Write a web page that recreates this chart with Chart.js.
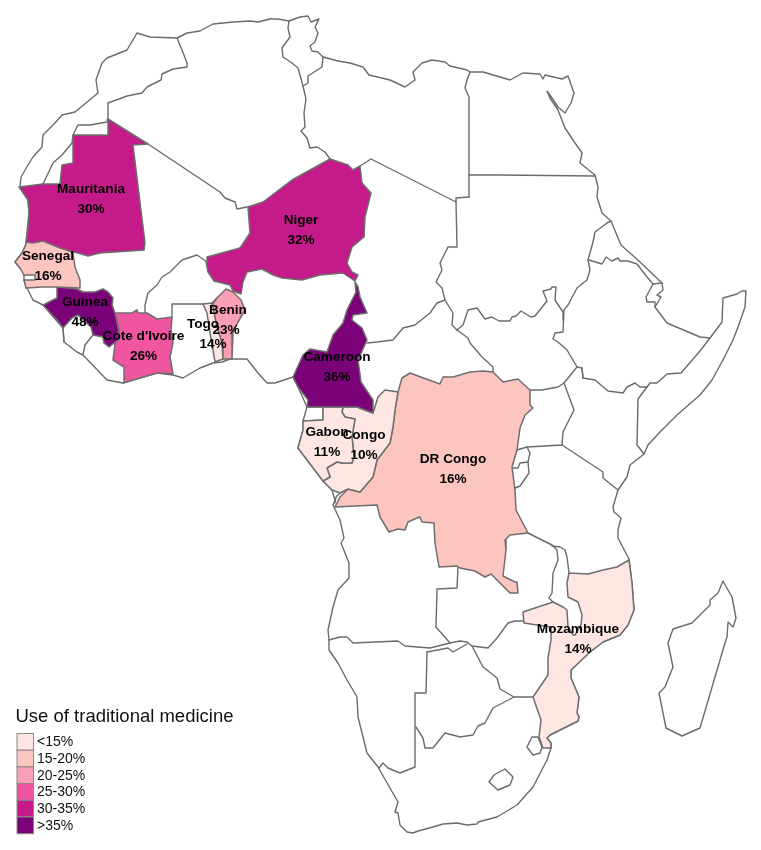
<!DOCTYPE html>
<html><head><meta charset="utf-8">
<style>html,body{margin:0;padding:0;background:#fff}canvas{display:block}</style>
<script src="https://cdn.jsdelivr.net/npm/chart.js@4"></script>
</head><body>
<canvas id="c" width="761" height="850"></canvas>
<script>
// Map geometry in map units (0-761 × 0-850)
const coast = [20,187,21,177,28,165,33,157,42,147,43,135,48,130,55,123,62,115,75,112,98,93,96,80,102,63,107,58,127,50,137,33,150,37,177,38,187,33,200,31,213,24,233,22,250,21,258,22,270,19,278,19,289,21,300,17,308,16,311,22,319,19,315,27,318,33,315,42,310,46,312,51,318,52,323,57,338,61,350,63,363,67,369,75,390,80,405,87,415,80,413,72,422,63,432,60,445,62,450,66,467,70,470,72,483,72,500,77,510,80,523,73,540,74,543,79,545,75,562,79,568,76,574,93,571,103,565,113,558,107,550,95,547,91,550,98,558,110,565,128,575,143,582,153,580,163,595,175,598,187,597,197,602,213,611,221,621,245,640,262,662,283,663,290,657,295,661,297,655,307,667,323,700,337,710,338,722,322,723,298,737,294,742,291,746,291,745,307,738,327,733,340,724,358,712,380,700,395,677,415,660,432,648,445,644,454,630,465,627,477,618,490,613,507,614,512,621,518,618,530,618,538,629,559,632,583,634,610,628,625,620,635,603,642,590,652,571,670,571,678,579,697,577,713,579,717,578,721,550,735,547,738,551,743,551,748,547,760,533,787,517,805,497,817,478,822,477,824,467,825,457,823,443,824,433,827,418,831,413,833,407,832,400,825,398,813,395,812,398,802,378,767,367,753,358,717,357,697,347,680,338,663,329,650,329,640,328,630,333,607,338,590,349,578,349,563,341,543,344,538,340,520,333,505,335,500,332,490,323,481,298,448,303,430,303,421,307,407,298,387,293,377,275,383,267,383,258,373,247,359,230,359,222,362,213,363,200,368,183,378,173,375,157,373,133,380,123,383,107,380,83,355,77,352,64,342,63,328,43,305,33,300,27,288,24,280,24,273,20,268,15,262,22,253,27,242,26,242,29,213,28,200,20,187];
const madagascar = [723,581,718,593,710,600,710,605,692,623,673,629,668,643,673,667,665,687,659,693,663,713,666,728,682,736,700,728,725,643,727,637,728,622,733,627,736,618,732,597,723,581];
const lesotho = [505,769,513,777,510,785,498,790,489,782,494,775,505,769];
const swaziland = [532,737,538,737,542,747,540,753,533,755,527,747,532,737];
const borders = [
 [43,184,53,163,62,155,72,143,73,135,78,125,90,125,107,122,108,117,108,103,127,96,142,93,147,87,161,80,162,74,173,69,187,67,187,63,182,50,177,38],
 [148,144,220,192,225,198,235,202,237,209,247,207],
 [289,21,288,28,290,37,282,48,283,57,292,63,298,68,303,86,306,99,304,113,305,127,301,131,307,138,310,148,317,147,325,152,330,159],
 [303,86,308,83,308,76,322,67,323,57],
 [360,166,371,159,456,202,456,198,469,197],
 [456,202,457,247,448,247,440,263,442,270,436,282,442,288,445,300,437,303,430,313,415,325,403,328,393,340,377,342,367,343],
 [470,72,467,80,465,88,469,97,469,197],
 [469,175,500,175,595,176],
 [445,300,453,313,452,325,457,330,468,338,470,343,482,357,493,367,493,372],
 [457,330,463,325,468,310,477,308,485,319,492,317,499,321,510,321,512,317,516,316,521,311,531,317,535,316,547,301,543,291,551,289,552,287,556,287,555,300,563,312,563,320],
 [611,221,607,223,595,232,593,242,588,260,590,270,587,280,577,288,568,305,564,310,563,332,555,333,553,339,558,342,567,350,577,367,582,368,583,378],
 [589,260,602,264,606,257,612,261,618,258,620,261,628,261,637,264,647,277,653,284,662,283],
 [653,284,646,297,647,302,655,302,655,307],
 [577,367,564,383,558,387,542,390,530,390],
 [564,383,574,410,563,432,562,445,527,447,517,450],
 [527,447,530,453,528,462,520,463,518,468,512,468],
 [528,462,529,473,520,486,515,488],
 [562,445,603,472,603,478,618,490],
 [582,368,583,378,595,380,608,391,623,393,627,387,635,383,640,387,647,387,638,399,637,445,644,454],
 [647,387,650,383,657,383,667,374,681,373,700,351,710,338],
 [528,533,552,545,557,550,558,560,553,573,552,593,549,598,553,602],
 [552,546,560,547,565,550,567,557,569,573],
 [458,567,457,588,437,589,436,627,450,643],
 [329,640,340,637,347,637,353,643,398,641,405,646,430,648,450,643,460,641,467,642,472,646,488,648,497,638,508,623,515,621,523,621],
 [427,652,448,648,453,652,467,644],
 [427,652,426,693,415,693,415,767,400,773,388,768,383,763,379,768],
 [416,727,423,738,425,748,433,748,445,733,460,737,473,735,478,726,485,723,493,708,514,697],
 [472,646,483,667,497,678,500,689,514,697,533,697],
 [145,313,145,305,148,293,157,285,162,277,170,272,182,260,197,255,207,262],
 [172,317,172,304,203,304],
 [212,303,217,298],
 [63,328,64,342],
 [83,355,85,345,93,335],
 [103,337,104,343],
 [340,493,340,488,332,490],
 [335,503,336,497,340,493],
 [307,407,323,407,323,420,303,421]
];
// Countries with a value
const mauritania = [19,187,43,184,60,184,62,165,73,163,73,135,108,135,108,119,148,144,133,145,145,243,144,250,100,253,88,256,78,253,73,252,60,248,43,241,33,243,26,242,28,227,29,213,28,200,19,187];
const niger = [248,207,263,202,292,180,330,159,348,165,353,170,360,166,362,183,371,193,365,217,364,237,352,247,347,263,352,272,358,275,355,281,343,273,320,275,302,280,282,278,273,275,262,269,247,272,243,282,241,294,233,291,230,285,214,281,208,272,206,262,207,257,240,248,250,233,248,207];
const senegal = [27,242,42,238,57,243,73,253,75,267,80,280,80,288,57,287,42,287,26,288,24,280,35,280,35,275,24,275,20,268,15,262,22,253,27,242];
const guinea = [57,287,77,289,83,292,95,292,103,289,108,292,113,298,112,305,115,313,119,332,118,340,109,347,104,343,103,337,93,335,91,327,78,315,72,318,63,328,57,320,43,305,57,298,57,287];
const coteDIvoire = [115,313,132,313,137,310,138,313,147,313,157,319,172,317,171,330,173,343,170,357,173,374,157,373,133,380,123,383,124,367,113,360,115,343,119,332,115,313];
const togo = [203,304,212,303,217,327,222,343,223,359,215,362,210,333,207,313,203,304];
const benin = [226,289,233,292,241,300,245,310,238,322,233,333,232,359,223,359,222,343,217,327,212,305,217,298,226,289];
const cameroon = [355,282,358,287,360,297,367,313,353,315,352,320,362,328,367,340,358,360,361,382,373,400,373,413,357,407,343,407,307,407,308,400,298,387,293,377,303,355,310,349,327,352,333,335,343,323,347,310,356,292,355,282];
const gabon = [323,407,343,407,342,412,345,417,355,419,352,437,354,457,352,463,342,463,337,462,327,468,330,477,323,481,298,448,303,430,303,421,323,420,323,407];
const congo = [343,407,357,407,373,413,378,397,385,390,398,392,395,410,393,427,390,443,377,460,373,477,360,492,348,489,340,493,332,490,323,481,330,477,327,468,337,462,342,463,352,463,354,457,352,437,355,419,345,417,342,412,343,407];
const drCongo = [335,507,340,497,348,489,360,492,373,477,377,460,390,443,393,427,395,410,398,392,402,378,410,373,440,384,443,377,453,377,470,372,483,371,493,372,503,382,518,379,530,390,530,405,533,408,525,415,520,428,517,450,512,467,515,490,516,510,528,533,510,535,505,540,506,550,503,576,515,582,517,582,518,593,510,593,500,583,491,574,485,577,475,571,460,568,457,566,439,567,435,543,434,523,422,522,420,517,417,518,408,522,405,530,398,529,389,532,380,517,377,505,335,507];
const mozambique = [569,573,588,574,603,570,617,567,629,560,632,583,634,610,628,625,620,635,603,642,590,652,571,670,571,678,579,697,577,713,579,717,578,721,550,735,547,738,551,743,551,748,543,748,539,737,541,720,533,697,548,675,548,658,551,640,551,627,537,625,524,623,523,612,553,602,563,607,567,610,568,627,573,635,575,635,581,625,582,615,578,602,568,597,567,583,569,573];

const fillValues = [
 {name:"Mauritania",value:30,path:mauritania,lx:91,ly:189},
 {name:"Niger",value:32,path:niger,lx:301,ly:220},
 {name:"Senegal",value:16,path:senegal,lx:48,ly:256},
 {name:"Guinea",value:48,path:guinea,lx:85,ly:302},
 {name:"Cote d'Ivoire",value:26,path:coteDIvoire,lx:143.5,ly:336},
 {name:"Togo",value:14,path:togo,lx:203,ly:324,vx:213},
 {name:"Benin",value:23,path:benin,lx:228,ly:310,vx:226},
 {name:"Cameroon",value:36,path:cameroon,lx:337,ly:357},
 {name:"Gabon",value:11,path:gabon,lx:327,ly:432},
 {name:"Congo",value:10,path:congo,lx:364,ly:435},
 {name:"DR Congo",value:16,path:drCongo,lx:453,ly:459},
 {name:"Mozambique",value:14,path:mozambique,lx:578,ly:629}
];
const legendTitle = "Use of traditional medicine";
const legendLabels = ["<15%","15-20%","20-25%","25-30%","30-35%",">35%"];
const legendColors = ["#FEE6E3","#FCC5C0","#FA9FB5","#F0559F","#C51B8A","#7A0177"];
const breaks = [15,20,25,30,35];
const colorOf = v => { let i=0; while(i<breaks.length && v>=breaks[i]) i++; return legendColors[i]; };
const pts = a => { const r=[]; for(let i=0;i<a.length;i+=2) r.push({x:a[i],y:a[i+1]}); return r; };
const STROKE="#6b6b6b";
const lineDs = (a,ord,w) => ({type:'scatter',data:pts(a),showLine:true,pointRadius:0,pointHoverRadius:0,borderColor:STROKE,borderWidth:w||1.4,fill:false,tension:0,order:ord,clip:false,borderJoinStyle:'round',borderCapStyle:'round'});
const datasets = [];
[coast,madagascar,lesotho,swaziland].concat(borders).forEach(a=>datasets.push(lineDs(a,1)));
fillValues.forEach(c=>{const d=lineDs(c.path,0,1.5);d.fill='shape';d.backgroundColor=colorOf(c.value);d.borderColor='#6e6e6e';datasets.push(d);});

const textPlugin={id:'textPlugin',afterDraw(ch){
 const g=ch.ctx;g.save();
 g.textAlign='center';g.textBaseline='middle';g.fillStyle='#000';
 g.font='bold 13.6px "Liberation Sans", Arial, sans-serif';
 fillValues.forEach(c=>{g.fillText(c.name,c.lx,c.ly);g.fillText(c.value+'%',c.vx||c.lx,c.ly+20);});
 g.textAlign='left';
 g.font='18.5px "Liberation Sans", Arial, sans-serif';g.fillStyle='#111';
 g.fillText(legendTitle,15.5,716.5);
 g.font='14px "Liberation Sans", Arial, sans-serif';
 legendLabels.forEach((t,i)=>{
  const y=733.5+i*16.7;
  g.fillStyle=legendColors[i];g.fillRect(17,y,16.5,16.7);
  g.strokeStyle='#8a8a8a';g.lineWidth=1;g.strokeRect(17,y,16.5,16.7);
  g.fillStyle='#111';g.fillText(t,37,y+9);
 });
 g.restore();
}};
new Chart(document.getElementById('c'),{type:'scatter',data:{datasets},plugins:[textPlugin],
 options:{responsive:false,animation:false,events:[],layout:{padding:0},
  plugins:{legend:{display:false},tooltip:{enabled:false},title:{display:false}},
  scales:{x:{type:'linear',min:0,max:761,display:false},y:{type:'linear',min:0,max:850,reverse:true,display:false}}}});
</script>
</body></html>
